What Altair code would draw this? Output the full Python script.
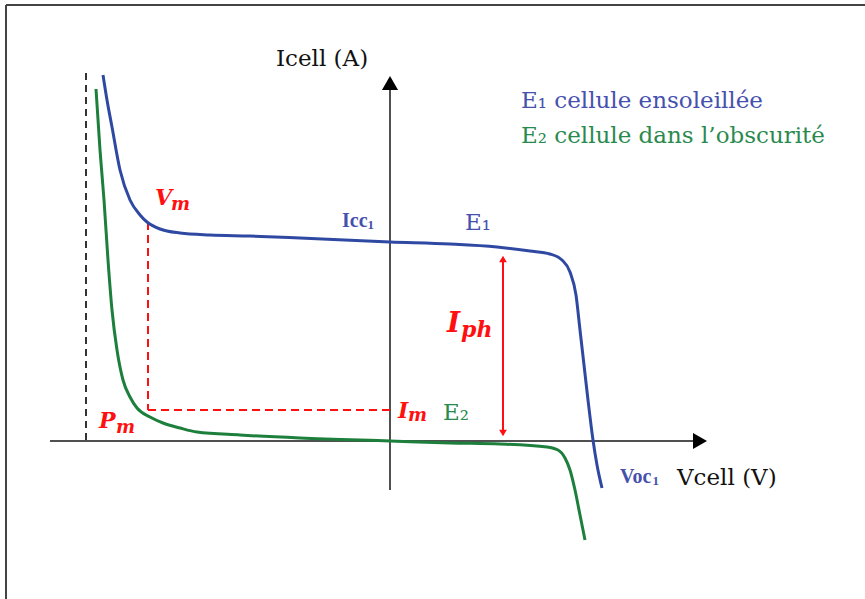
import altair as alt
import pandas as pd

# I-V characteristics of a PV cell (schematic units: V along x, I along y)
e1_v = [-2.87, -2.83, -2.78, -2.70, -2.60, -2.50, -2.43, -2.30, -2.10, -1.80, -1.40, -0.90,
        0.00, 0.60, 1.07, 1.40, 1.60, 1.72, 1.80, 1.86, 1.90, 1.94, 1.98, 2.03, 2.07, 2.12]
e1_i = [3.65, 3.40, 3.13, 2.70, 2.40, 2.25, 2.18, 2.11, 2.07, 2.05, 2.04, 2.02,
        1.98, 1.96, 1.93, 1.89, 1.86, 1.80, 1.68, 1.45, 1.10, 0.75, 0.40, 0.00, -0.25, -0.48]

e2_v = [-2.94, -2.90, -2.86, -2.82, -2.78, -2.73, -2.67, -2.60, -2.53, -2.40, -2.27, -2.10,
        -1.93, -1.50, -0.90, 0.00, 0.60, 1.10, 1.57, 1.68, 1.75, 1.80, 1.85, 1.90, 1.95]
e2_i = [3.51, 2.90, 2.40, 1.80, 1.30, 0.90, 0.60, 0.43, 0.32, 0.23, 0.17, 0.12,
        0.08, 0.05, 0.02, -0.01, -0.03, -0.04, -0.07, -0.10, -0.18, -0.30, -0.50, -0.75, -1.00]

# maximum power point and photocurrent
v_m, i_m, i_vm = -2.42, 0.30, 2.18
iph_v, iph_top, iph_bottom = 1.13, 1.85, 0.03
v_limit, v_limit_top = -3.04, 3.67

# axis extents
x_axis_from, x_axis_to, x_axis_y = -3.40, 3.03, -0.01
y_axis_from, y_axis_to = -0.50, 3.52

xs = alt.Scale(domain=[-3.90, 4.75], nice=False, zero=False)
ys = alt.Scale(domain=[-1.59, 4.40], nice=False, zero=False)

BLUE_LINE = "#2f49a3"
GREEN_LINE = "#1d7f3c"
BLUE_TXT = "#4650ad"
GREEN_TXT = "#2a8a4e"
RED = "#ff1010"
AXIS = "#505050"
SERIF = "DejaVu Serif"
TIMES = "Liberation Serif"


def X(f="x"):
    return alt.X(f"{f}:Q", scale=xs, axis=None)


def Y(f="y"):
    return alt.Y(f"{f}:Q", scale=ys, axis=None)


def curve(v, i, color):
    df = pd.DataFrame({"x": v, "y": i, "k": range(len(v))})
    return alt.Chart(df).mark_line(color=color, strokeWidth=3, interpolate="monotone").encode(
        x=X(), y=Y(), order="k:Q")


def segment(x1, y1, x2, y2, color, width=2, dash=None):
    df = pd.DataFrame({"x": [x1], "y": [y1], "x2": [x2], "y2": [y2]})
    kw = dict(color=color, strokeWidth=width)
    if dash:
        kw["strokeDash"] = dash
    return alt.Chart(df).mark_rule(**kw).encode(
        x=X(), y=Y(), x2="x2:Q", y2="y2:Q")


def head(x, y, shape, color, size):
    df = pd.DataFrame({"x": [x], "y": [y]})
    return alt.Chart(df).mark_point(shape=shape, filled=True, color=color, size=size,
                                    opacity=1, strokeWidth=0).encode(x=X(), y=Y())


def label(x, y, text, color, size, weight="normal", style="normal", font=SERIF):
    df = pd.DataFrame({"x": [x], "y": [y], "t": [text]})
    return alt.Chart(df).mark_text(align="left", baseline="alphabetic", color=color,
                                   fontSize=size, font=font, fontWeight=weight,
                                   fontStyle=style).encode(x=X(), y=Y(), text="t:N")


def math(x, y, text, size):
    return label(x, y, text, RED, size, weight="bold", style="italic")


# frame around the figure
frame = [
    alt.Chart(pd.DataFrame({"a": [0]})).mark_rule(color="#444444", strokeWidth=2).encode(
        x=alt.value(6), y=alt.value(5), y2=alt.value(599)),
    alt.Chart(pd.DataFrame({"a": [0]})).mark_rule(color="#444444", strokeWidth=2).encode(
        x=alt.value(6), x2=alt.value(865), y=alt.value(5)),
]

layers = frame + [
    # axes with arrow heads
    segment(x_axis_from, x_axis_y, x_axis_to, x_axis_y, AXIS, 2),
    segment(0, y_axis_from, 0, y_axis_to, AXIS, 2),
    head(3.10, x_axis_y, "triangle-right", "#000000", 260),
    head(0, 3.57, "triangle-up", "#000000", 260),
    # limiting voltage
    segment(v_limit, v_limit_top, v_limit, 0, "#333333", 2, [7, 5]),
    # Vm / Im construction
    segment(v_m, i_vm, v_m, i_m, RED, 2, [8, 5]),
    segment(v_m, i_m, 0, i_m, RED, 2, [8, 5]),
    # photocurrent arrow
    segment(iph_v, iph_top - 0.05, iph_v, iph_bottom + 0.05, RED, 2),
    head(iph_v, iph_top - 0.04, "triangle-up", RED, 60),
    head(iph_v, iph_bottom + 0.04, "triangle-down", RED, 60),
    # characteristics
    curve(e2_v, e2_i, GREEN_LINE),
    curve(e1_v, e1_i, BLUE_LINE),
    # texts
    label(-1.14, 3.74, "Icell (A)", "#111111", 23),
    label(2.87, -0.45, "Vcell (V)", "#111111", 23),
    label(1.31, 3.32, "E₁ cellule ensoleillée", BLUE_TXT, 23),
    label(1.31, 2.97, "E₂ cellule dans l’obscurité", GREEN_TXT, 23),
    label(0.75, 2.10, "E₁", BLUE_TXT, 23),
    label(0.53, 0.20, "E₂", GREEN_TXT, 23),
    label(-0.48, 2.13, "Icc", BLUE_TXT, 20, weight="bold", font=TIMES),
    label(-0.225, 2.11, "1", BLUE_TXT, 13, weight="bold", font=TIMES),
    label(2.30, -0.43, "Voc", BLUE_TXT, 20, weight="bold", font=TIMES),
    label(2.625, -0.45, "1", BLUE_TXT, 13, weight="bold", font=TIMES),
    math(-2.35, 2.35, "V", 22),
    math(-2.19, 2.30, "m", 18),
    math(0.57, 1.08, "I", 28),
    math(0.71, 1.03, "ph", 22),
    math(0.08, 0.22, "I", 22),
    math(0.18, 0.19, "m", 18),
    math(-2.91, 0.12, "P", 22),
    math(-2.74, 0.07, "m", 18),
]

chart = alt.layer(*layers).properties(
    width=865, height=599, padding=0, autosize=alt.AutoSizeParams(type="none"),
    background="white",
).configure_view(stroke=None)

chart.save("out.html", embed_options={"renderer": "svg", "actions": False})
